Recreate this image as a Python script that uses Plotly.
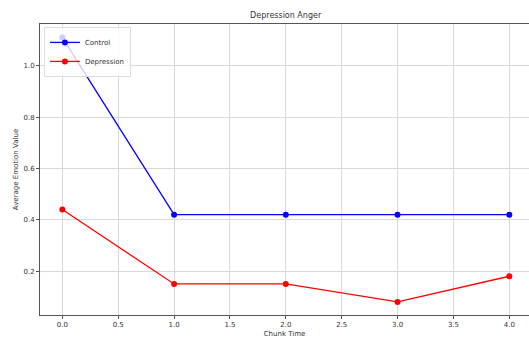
import plotly.graph_objects as go

chunk_time = [0, 1, 2, 3, 4]
control = [1.11, 0.42, 0.42, 0.42, 0.42]
depression = [0.44, 0.15, 0.15, 0.08, 0.18]
x_ticks = [0.0, 0.5, 1.0, 1.5, 2.0, 2.5, 3.0, 3.5, 4.0]
y_ticks = [0.2, 0.4, 0.6, 0.8, 1.0]

fig = go.Figure()
fig.add_trace(go.Scatter(x=chunk_time, y=control, mode="lines+markers", name="Control",
                         line=dict(color="blue", width=1.3), marker=dict(color="blue", size=6)))
fig.add_trace(go.Scatter(x=chunk_time, y=depression, mode="lines+markers", name="Depression",
                         line=dict(color="red", width=1.3), marker=dict(color="red", size=6)))

font = "DejaVu Sans"
fig.update_layout(
    width=529, height=342,
    margin=dict(l=40, r=0, t=24, b=27, autoexpand=False),
    paper_bgcolor="white", plot_bgcolor="white",
    font=dict(family=font, size=7, color="#333"),
    title=dict(text="Depression Anger", x=0.54, xanchor="center", y=0.955, yanchor="middle",
               font=dict(size=8, color="#333")),
    showlegend=True,
    legend=dict(x=0.008, y=0.99, xanchor="left", yanchor="top", bgcolor="rgba(255,255,255,0.8)",
                bordercolor="#ddd", borderwidth=1, font=dict(size=7), itemwidth=30,
                tracegroupgap=0),
)
fig.update_xaxes(range=[-0.2, 4.176], tickvals=x_ticks, ticktext=[f"{v:.1f}" for v in x_ticks],
                 showgrid=True, gridcolor="#d9d9d9", gridwidth=1, zeroline=False,
                 showline=True, linecolor="#555", linewidth=1, mirror=True,
                 ticks="outside", ticklen=3, tickcolor="#555", automargin=False,
                 title=dict(text="Chunk Time", standoff=2, font=dict(size=7)))
fig.update_yaxes(range=[0.029, 1.163], tickvals=y_ticks, ticktext=[f"{v:.1f}" for v in y_ticks],
                 showgrid=True, gridcolor="#d9d9d9", gridwidth=1, zeroline=False,
                 showline=True, linecolor="#555", linewidth=1,
                 ticks="outside", ticklen=3, tickcolor="#555", automargin=False,
                 title=dict(text="Average Emotion Value", standoff=4, font=dict(size=7)))

fig.write_html("out.html", config={"displayModeBar": False},
               post_script="document.body.style.margin='0';")
